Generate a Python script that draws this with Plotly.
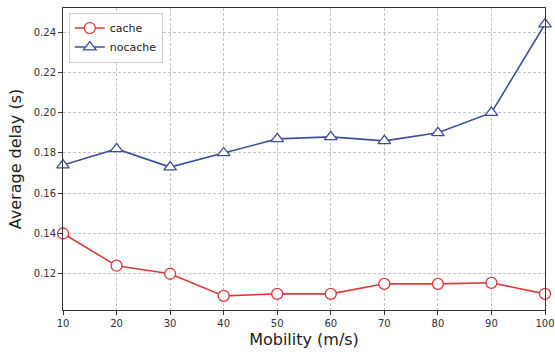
import plotly.graph_objects as go

mobility = [10, 20, 30, 40, 50, 60, 70, 80, 90, 100]
cache = [0.140, 0.124, 0.120, 0.109, 0.110, 0.110, 0.115, 0.115, 0.1155, 0.110]
nocache = [0.174, 0.182, 0.173, 0.180, 0.187, 0.188, 0.186, 0.190, 0.200, 0.244]
y_ticks = [0.12, 0.14, 0.16, 0.18, 0.20, 0.22, 0.24]

red = "#d93a3a"
blue = "#3d4f9a"

fig = go.Figure()
fig.add_trace(go.Scatter(
    x=mobility, y=cache, name="cache", mode="lines+markers",
    line=dict(color=red, width=1.6),
    marker=dict(symbol="circle", size=11, color="white", line=dict(color=red, width=1.3)),
    cliponaxis=False,
))
fig.add_trace(go.Scatter(
    x=mobility, y=nocache, name="nocache", mode="lines+markers",
    line=dict(color=blue, width=1.6),
    marker=dict(symbol="triangle-up", size=11, color="white", line=dict(color=blue, width=1.3)),
    cliponaxis=False,
))

axis_common = dict(
    showgrid=True, gridcolor="#c4c4c4", griddash="3px,2px", gridwidth=1,
    showline=True, linecolor="#333333", linewidth=1, mirror=True,
    ticks="outside", ticklen=4, tickcolor="#333333",
    tickfont=dict(family="DejaVu Sans", size=10, color="#333333"),
    zeroline=False, automargin=False,
)

fig.update_layout(
    width=555, height=354,
    margin=dict(l=63, r=10, t=8, b=44),
    paper_bgcolor="white", plot_bgcolor="white",
    showlegend=True,
    legend=dict(x=0.012, y=0.985, xanchor="left", yanchor="top",
                bgcolor="white", bordercolor="#cccccc", borderwidth=1,
                font=dict(family="DejaVu Sans", size=11, color="#222222"),
                tracegroupgap=0),
    xaxis=dict(range=[10, 100], tickvals=mobility,
               title=dict(text="Mobility (m/s)", font=dict(family="DejaVu Sans", size=16, color="#222222"), standoff=5),
               **axis_common),
    yaxis=dict(range=[0.102, 0.252], tickvals=y_ticks, tickformat=".2f",
               title=dict(text="Average delay (s)", font=dict(family="DejaVu Sans", size=16, color="#222222"), standoff=8),
               **axis_common),
)

fig.write_html("out.html")
